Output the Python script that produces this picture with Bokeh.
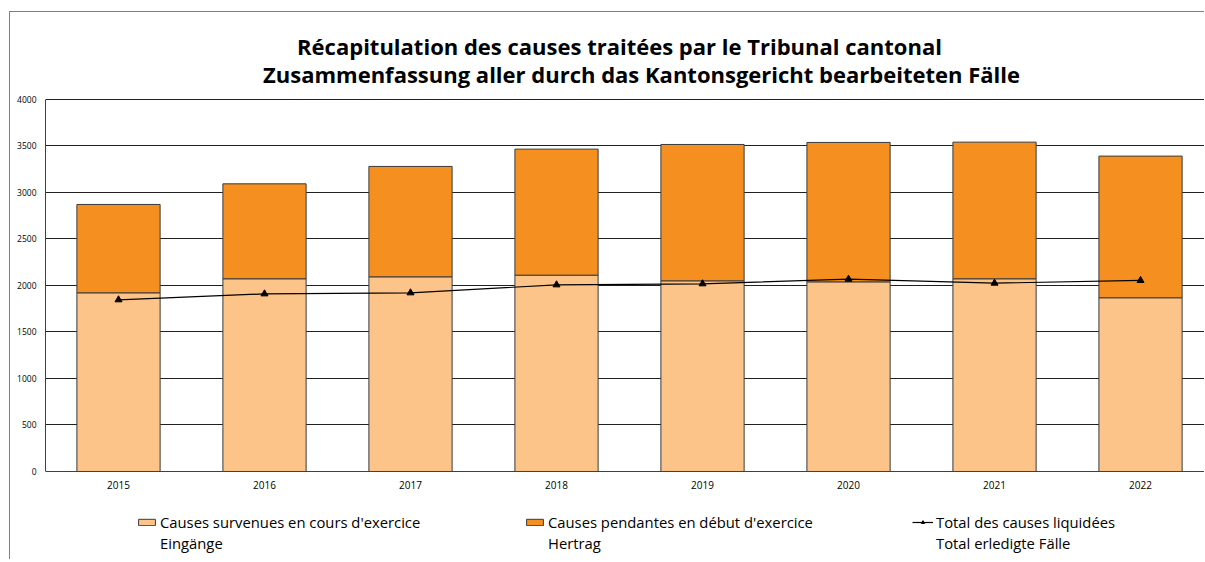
from bokeh.plotting import figure
from bokeh.models import (ColumnDataSource, Range1d, FixedTicker, Legend, LegendItem, Label)
from bokeh.embed import file_html
from bokeh.resources import INLINE

years = ["2015", "2016", "2017", "2018", "2019", "2020", "2021", "2022"]
incoming = [1921, 2072, 2093, 2111, 2050, 2039, 2072, 1868]
pending = [950, 1021, 1187, 1355, 1466, 1499, 1469, 1523]
liquidated = [1846, 1910, 1921, 2007, 2018, 2068, 2025, 2054]
y_ticks = [0, 500, 1000, 1500, 2000, 2500, 3000, 3500, 4000]
title_fr = "Récapitulation des causes traitées par le Tribunal cantonal"
title_de = "Zusammenfassung aller durch das Kantonsgericht bearbeiteten Fälle"

FONT = "Open Sans"
LIGHT = "#FDC48A"
DARK = "#F58F1F"

xs = list(range(len(years)))
tops = [a + b for a, b in zip(incoming, pending)]
src = ColumnDataSource(dict(x=xs, inc=incoming, top=tops, liq=liquidated))

p = figure(width=1195, height=548, output_backend="svg", toolbar_location=None,
           x_range=Range1d(-0.5, 7.445), y_range=Range1d(-957, 4935),
           min_border_left=35, min_border_right=0, min_border_top=0, min_border_bottom=0)
p.margin = (11, 0, 0, 9)
p.styles = {"border-top": "1px solid #7f7f7f", "border-left": "1px solid #7f7f7f"}
p.title = None
p.outline_line_color = None
p.background_fill_color = "white"
p.border_fill_color = "white"

# titles
p.add_layout(Label(text=title_fr, x=574, y=515, x_units="screen", y_units="screen",
                   text_font=FONT, text_font_size="22px", text_font_style="bold",
                   text_align="center", text_baseline="alphabetic", text_color="black"))
p.add_layout(Label(text=title_de, x=596, y=487, x_units="screen", y_units="screen",
                   text_font=FONT, text_font_size="22px", text_font_style="bold",
                   text_align="center", text_baseline="alphabetic", text_color="black"))

r_inc = p.vbar(x="x", bottom=0, top="inc", width=0.57, source=src,
               fill_color=LIGHT, line_color="#3a3a3a", line_width=1)
r_pen = p.vbar(x="x", bottom="inc", top="top", width=0.57, source=src,
               fill_color=DARK, line_color="#3a3a3a", line_width=1)
r_line = p.line(x="x", y="liq", source=src, line_color="black", line_width=1.2)
r_mark = p.scatter(x="x", y="liq", source=src, marker="triangle", size=7,
                   fill_color="black", line_color="black")
r_blank = p.vbar(x=[], top=[], width=0.1, fill_alpha=0, line_alpha=0)

# axes
p.yaxis.ticker = FixedTicker(ticks=y_ticks)
p.yaxis.bounds = (0, 4000)
p.xaxis.ticker = FixedTicker(ticks=xs)
p.xaxis.fixed_location = 0
p.xaxis.major_label_overrides = {i: y for i, y in enumerate(years)}
for ax in (p.xaxis, p.yaxis):
    ax.major_tick_out = 0
    ax.major_tick_in = 0
    ax.minor_tick_out = 0
    ax.minor_tick_in = 0
    ax.axis_line_color = "#404040"
    ax.major_label_text_font = FONT
    ax.major_label_text_color = "black"
p.yaxis.major_label_text_font_size = "8.5px"
p.xaxis.major_label_text_font_size = "10px"
p.yaxis.major_label_standoff = 9
p.xaxis.major_label_standoff = 10
p.xgrid.grid_line_color = None
p.ygrid.ticker = FixedTicker(ticks=y_ticks[1:])
p.ygrid.grid_line_color = "#202020"
p.ygrid.grid_line_width = 1

legend = Legend(items=[
    LegendItem(label="Causes survenues en cours d'exercice", renderers=[r_inc]),
    LegendItem(label="Causes pendantes en début d'exercice", renderers=[r_pen]),
    LegendItem(label="Total des causes liquidées", renderers=[r_line, r_mark]),
    LegendItem(label="Eingänge", renderers=[r_blank]),
    LegendItem(label="Hertrag", renderers=[r_blank]),
    LegendItem(label="Total erledigte Fälle", renderers=[r_blank]),
], orientation="horizontal", ncols=3, location=(91, 7),
    label_text_font=FONT, label_text_font_size="14.8px", label_text_color="black",
    glyph_width=21, glyph_height=8, label_standoff=3, label_width=363, label_height=18,
    spacing=1, padding=0, margin=0, border_line_color=None, background_fill_alpha=0)
p.add_layout(legend, "center")

open("out.html", "w").write(file_html(p, INLINE))
